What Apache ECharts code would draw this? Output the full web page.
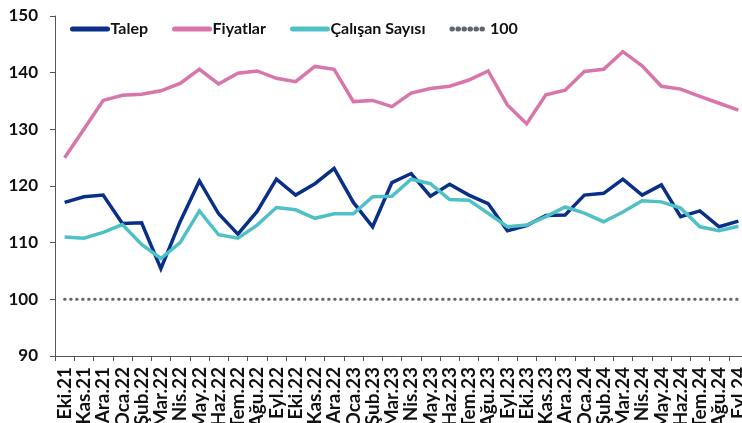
<!DOCTYPE html>
<html>
<head>
<meta charset="utf-8">
<script src="https://cdn.jsdelivr.net/npm/echarts@6/dist/echarts.min.js"></script>
<style>
  html, body { margin: 0; padding: 0; background: #fff; }
  .chart { width: 742px; height: 423px; }
</style>
</head>
<body>
<div class="chart"></div>
<script>
var months = ["Eki.21", "Kas.21", "Ara.21", "Oca.22", "Şub.22", "Mar.22", "Nis.22", "May.22", "Haz.22", "Tem.22", "Ağu.22", "Eyl.22",
  "Eki.22", "Kas.22", "Ara.22", "Oca.23", "Şub.23", "Mar.23", "Nis.23", "May.23", "Haz.23", "Tem.23", "Ağu.23", "Eyl.23",
  "Eki.23", "Kas.23", "Ara.23", "Oca.24", "Şub.24", "Mar.24", "Nis.24", "May.24", "Haz.24", "Tem.24", "Ağu.24", "Eyl.24"];

var talep = [117.1, 118.1, 118.4, 113.4, 113.5, 105.4, 113.7, 120.9, 115.1, 111.5, 115.5, 121.2,
  118.4, 120.4, 123.1, 117.1, 112.8, 120.6, 122.2, 118.2, 120.3, 118.4, 116.9, 112.1,
  113.0, 114.8, 114.9, 118.4, 118.7, 121.2, 118.4, 120.2, 114.6, 115.6, 112.8, 113.8];

var fiyatlar = [125.0, 130.0, 135.1, 136.0, 136.2, 136.8, 138.1, 140.6, 138.0, 139.9, 140.3, 139.0,
  138.4, 141.1, 140.6, 134.9, 135.1, 134.0, 136.4, 137.2, 137.6, 138.7, 140.3, 134.3,
  131.0, 136.1, 136.9, 140.2, 140.6, 143.7, 141.2, 137.6, 137.1, 135.8, 134.6, 133.4];

var calisan = [111.0, 110.8, 111.8, 113.2, 109.7, 107.2, 110.0, 115.6, 111.4, 110.8, 113.1, 116.2,
  115.8, 114.3, 115.1, 115.1, 118.1, 118.2, 121.2, 120.4, 117.6, 117.5, 115.2, 112.8,
  113.1, 114.6, 116.3, 115.2, 113.7, 115.4, 117.4, 117.2, 116.1, 112.8, 112.1, 112.9];

// referans çizgisi
var esik = [100, 100, 100, 100, 100, 100, 100, 100, 100, 100, 100, 100,
  100, 100, 100, 100, 100, 100, 100, 100, 100, 100, 100, 100,
  100, 100, 100, 100, 100, 100, 100, 100, 100, 100, 100, 100];

(function () {
  var myChart = echarts.init(document.querySelector(".chart"));
  var font = "Lato";

  function line(name, data, color, width, type) {
    return {
      name: name,
      type: "line",
      data: data,
      symbol: "none",
      silent: true,
      lineStyle: {
        color: color,
        width: width,
        type: type || "solid",
        cap: type ? "round" : "butt",
        join: "miter",
      },
      itemStyle: { color: color },
    };
  }

  var option = {
    animation: false,
    textStyle: { fontFamily: font },
    grid: { left: 55, right: -6, top: 16, bottom: 67, containLabel: false, outerBoundsMode: "none" },
    legend: {
      left: 70,
      top: 21,
      padding: 0,
      itemWidth: 35,
      itemHeight: 14,
      itemGap: 24,
      itemStyle: { opacity: 0 },
      textStyle: { fontFamily: font, fontWeight: "bold", fontSize: 16, color: "#111", padding: [0, 0, 0, -2] },
      lineStyle: { width: 5, cap: "round" },
      data: ["Talep", "Fiyatlar", "Çalışan Sayısı", "100"],
    },
    xAxis: {
      type: "category",
      data: months,
      boundaryGap: true,
      axisLine: { lineStyle: { color: "#555", width: 1 } },
      axisTick: { show: true, length: 5, lineStyle: { color: "#555" } },
      axisLabel: {
        interval: 0,
        rotate: 90,
        margin: 11,
        fontFamily: font,
        fontWeight: "bold",
        fontSize: 19,
        color: "#111",
      },
    },
    yAxis: {
      type: "value",
      min: 90,
      max: 150,
      interval: 10,
      splitLine: { show: false },
      axisLine: { show: true, lineStyle: { color: "#555", width: 1 } },
      axisTick: { show: true, length: 5, lineStyle: { color: "#555" } },
      axisLabel: { margin: 17, fontFamily: font, fontWeight: "bold", fontSize: 17, color: "#111" },
    },
    series: [
      line("Talep", talep, "#0a2f87", 3.5),
      line("Fiyatlar", fiyatlar, "#d875ab", 3.5),
      line("Çalışan Sayısı", calisan, "#4fc1c6", 3.5),
      line("100", esik, "#5f6670", 3, [0.5, 5.5]),
    ],
  };
  myChart.setOption(option);
})();
</script>
</body>
</html>
